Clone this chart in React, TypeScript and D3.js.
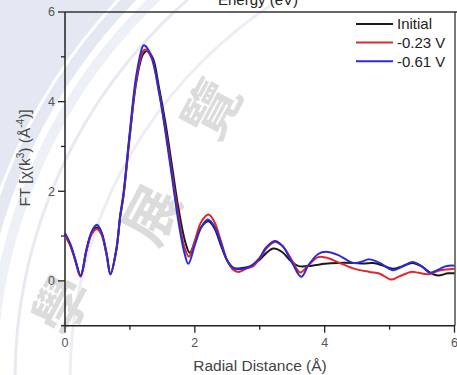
import React from "react";
import * as d3 from "d3";

const xTicksMajor = [0, 2, 4, 6];
const xTicksMinor = [1, 3, 5];
const yTicksMajor = [0, 2, 4, 6];
const yTicksMinor = [-1, 1, 3, 5];

const seriesNames = ["Initial", "-0.23 V", "-0.61 V"];
const seriesColors = ["#1a1a1a", "#e3262b", "#2a2ad8"];

const initialX = [0, 0.077, 0.154, 0.24, 0.33, 0.41, 0.49, 0.56, 0.64, 0.70, 0.79, 0.85, 0.9, 1.0, 1.1, 1.2, 1.26, 1.35, 1.45, 1.55, 1.65, 1.75, 1.85, 1.92, 2.0, 2.1, 2.21, 2.3, 2.4, 2.5, 2.6, 2.7, 2.85, 3.0, 3.1, 3.21, 3.35, 3.48, 3.6, 3.8, 4.0, 4.2, 4.44, 4.6, 4.75, 4.9, 5.05, 5.2, 5.35, 5.5, 5.65, 5.75, 5.9, 6.0];
const initialY = [1.03, 0.82, 0.49, 0.12, 0.68, 1.07, 1.19, 1.07, 0.6, 0.16, 0.68, 1.42, 1.88, 3.25, 4.45, 5.05, 5.13, 4.98, 4.3, 3.5, 2.55, 1.6, 0.88, 0.63, 0.86, 1.2, 1.33, 1.18, 0.8, 0.45, 0.29, 0.28, 0.32, 0.47, 0.62, 0.72, 0.64, 0.44, 0.33, 0.34, 0.38, 0.40, 0.40, 0.39, 0.40, 0.34, 0.27, 0.33, 0.40, 0.32, 0.16, 0.12, 0.17, 0.17];

const redX = [0, 0.077, 0.154, 0.24, 0.33, 0.41, 0.49, 0.56, 0.64, 0.70, 0.79, 0.85, 0.9, 1.0, 1.1, 1.2, 1.24, 1.33, 1.45, 1.55, 1.65, 1.75, 1.84, 1.91, 2.0, 2.1, 2.21, 2.3, 2.4, 2.5, 2.6, 2.68, 2.8, 2.9, 3.0, 3.1, 3.23, 3.35, 3.5, 3.62, 3.75, 3.9, 4.02, 4.2, 4.44, 4.69, 4.85, 5.02, 5.15, 5.33, 5.45, 5.6, 5.77, 6.0];
const redY = [1.0, 0.8, 0.47, 0.09, 0.66, 1.04, 1.16, 1.04, 0.58, 0.14, 0.68, 1.44, 1.9, 3.3, 4.5, 5.12, 5.16, 4.98, 4.2, 3.35, 2.38, 1.42, 0.75, 0.54, 0.9, 1.32, 1.48, 1.32, 0.9, 0.45, 0.24, 0.2, 0.28, 0.33, 0.5, 0.72, 0.87, 0.78, 0.45, 0.19, 0.35, 0.53, 0.52, 0.42, 0.28, 0.2, 0.16, 0.03, 0.1, 0.2, 0.18, 0.15, 0.23, 0.27];

const blueX = [0, 0.077, 0.154, 0.24, 0.33, 0.41, 0.49, 0.56, 0.64, 0.70, 0.79, 0.85, 0.9, 1.0, 1.1, 1.2, 1.22, 1.33, 1.45, 1.55, 1.65, 1.75, 1.84, 1.9, 2.0, 2.1, 2.2, 2.3, 2.4, 2.5, 2.6, 2.7, 2.85, 3.0, 3.1, 3.23, 3.35, 3.5, 3.64, 3.75, 3.9, 4.02, 4.2, 4.44, 4.55, 4.69, 4.85, 5.05, 5.2, 5.35, 5.5, 5.62, 5.75, 5.87, 6.0];
const blueY = [1.07, 0.84, 0.5, 0.11, 0.7, 1.1, 1.25, 1.1, 0.62, 0.15, 0.7, 1.46, 1.95, 3.35, 4.6, 5.24, 5.26, 5.02, 4.2, 3.3, 2.3, 1.3, 0.62, 0.38, 0.8, 1.2, 1.37, 1.22, 0.85, 0.45, 0.28, 0.26, 0.32, 0.52, 0.75, 0.89, 0.78, 0.4, 0.09, 0.35, 0.6, 0.65, 0.58, 0.4, 0.42, 0.48, 0.4, 0.24, 0.32, 0.42, 0.32, 0.18, 0.25, 0.33, 0.34];

const watermarkChars = ["學", "展", "覽"];

const W = 457;
const H = 375;
const M = { left: 65, right: 454.5, top: 12, bottom: 325.7 };

export default function App() {
  const x = d3.scaleLinear().domain([0, 6]).range([M.left, M.right]);
  const y = d3.scaleLinear().domain([-1, 6]).range([M.bottom, M.top]);
  const line = d3
    .line<[number, number]>()
    .x((d) => x(d[0]))
    .y((d) => y(d[1]))
    .curve(d3.curveCatmullRom.alpha(0.5));

  const series = [
    initialX.map((v, i) => [v, initialY[i]] as [number, number]),
    redX.map((v, i) => [v, redY[i]] as [number, number]),
    blueX.map((v, i) => [v, blueY[i]] as [number, number]),
  ];

  const cx = 520;
  const cy = 380;
  const R = 540;
  const charPos = [
    [58, 303],
    [148, 213],
    [208, 107],
  ];

  const font = "Arial, 'Liberation Sans', Helvetica, sans-serif";
  const tickColor = "#555";

  return (
    <svg
      width={W}
      height={H}
      style={{ position: "absolute", left: 0, top: 0, background: "#fff" }}
      fontFamily={font}
    >
      {/* watermark */}
      <path
        d={`M0,0 H${W} V${H} H0 Z M${cx + R},${cy} A${R},${R} 0 1,0 ${cx - R},${cy} A${R},${R} 0 1,0 ${cx + R},${cy} Z`}
        fill="#e3e8f2"
        fillRule="evenodd"
      />
      <circle cx={cx} cy={cy} r={R - 12} fill="none" stroke="#edf0f6" strokeWidth={10} />
      <circle cx={cx} cy={cy} r={553} fill="none" stroke="#ffffff" strokeWidth={3} />
      <circle cx={cx} cy={cy} r={505} fill="none" stroke="#e7eaf1" strokeWidth={3} />
      <circle cx={cx} cy={cy} r={450} fill="none" stroke="#eceef3" strokeWidth={3} />
      {watermarkChars.map((c, i) => (
        <text
          key={c}
          x={charPos[i][0]}
          y={charPos[i][1]}
          transform={`rotate(-62 ${charPos[i][0]} ${charPos[i][1]})`}
          textAnchor="middle"
          dominantBaseline="central"
          fontSize={56}
          fontWeight={700}
          fontFamily="'Noto Sans CJK TC', 'Noto Sans CJK SC', sans-serif"
          fill="#dcdcdc"
        >
          {c}
        </text>
      ))}

      {/* title (clipped at the top edge, as in the original) */}
      <text x={258} y={5} textAnchor="middle" fontSize={15} fill="#222">
        Energy (eV)
      </text>

      {/* frame */}
      <line x1={M.left} x2={W} y1={M.top} y2={M.top} stroke="#333" strokeWidth={1.3} />
      <line x1={455} x2={455} y1={M.top} y2={M.bottom} stroke="#333" strokeWidth={1.3} />
      <line x1={M.left} x2={M.left} y1={M.top} y2={M.bottom} stroke="#222" strokeWidth={1.5} />
      <line x1={M.left} x2={455} y1={M.bottom} y2={M.bottom} stroke="#222" strokeWidth={1.5} />

      {/* y ticks */}
      {yTicksMajor.map((t) => (
        <g key={"ym" + t}>
          <line x1={M.left - 7} x2={M.left} y1={y(t)} y2={y(t)} stroke="#222" strokeWidth={1.3} />
          <text x={M.left - 10} y={y(t)} dy="0.35em" textAnchor="end" fontSize={12.5} fill={tickColor}>
            {t}
          </text>
        </g>
      ))}
      {yTicksMinor.map((t) => (
        <line key={"yn" + t} x1={M.left - 4} x2={M.left} y1={y(t)} y2={y(t)} stroke="#222" strokeWidth={1.3} />
      ))}

      {/* x ticks */}
      {xTicksMajor.map((t) => (
        <g key={"xm" + t}>
          <line x1={x(t)} x2={x(t)} y1={M.bottom} y2={M.bottom + 7} stroke="#222" strokeWidth={1.3} />
          <text x={x(t)} y={347} textAnchor="middle" fontSize={12.5} fill={tickColor}>
            {t}
          </text>
        </g>
      ))}
      {xTicksMinor.map((t) => (
        <line key={"xn" + t} x1={x(t)} x2={x(t)} y1={M.bottom} y2={M.bottom + 4} stroke="#222" strokeWidth={1.3} />
      ))}

      {/* axis labels */}
      <text x={260} y={371} textAnchor="middle" fontSize={15.5} fill="#444">
        Radial Distance (Å)
      </text>
      <text transform="translate(30,158) rotate(-90)" textAnchor="middle" fontSize={15.5} fill="#444">
        FT [χ(k<tspan dy={-6} fontSize={10}>3</tspan>
        <tspan dy={6}>) (Å</tspan>
        <tspan dy={-6} fontSize={10}>-4</tspan>
        <tspan dy={6}>)]</tspan>
      </text>

      {/* series */}
      {series.map((s, i) => (
        <path key={i} d={line(s) as string} fill="none" stroke={seriesColors[i]} strokeWidth={2} strokeLinejoin="round" />
      ))}

      {/* legend */}
      {seriesNames.map((n, i) => (
        <g key={n}>
          <line x1={356} x2={393} y1={24 + i * 18.6} y2={24 + i * 18.6} stroke={seriesColors[i]} strokeWidth={2} />
          <text x={397} y={24 + i * 18.6} dy="0.36em" fontSize={15} fill="#222">
            {n}
          </text>
        </g>
      ))}
    </svg>
  );
}
